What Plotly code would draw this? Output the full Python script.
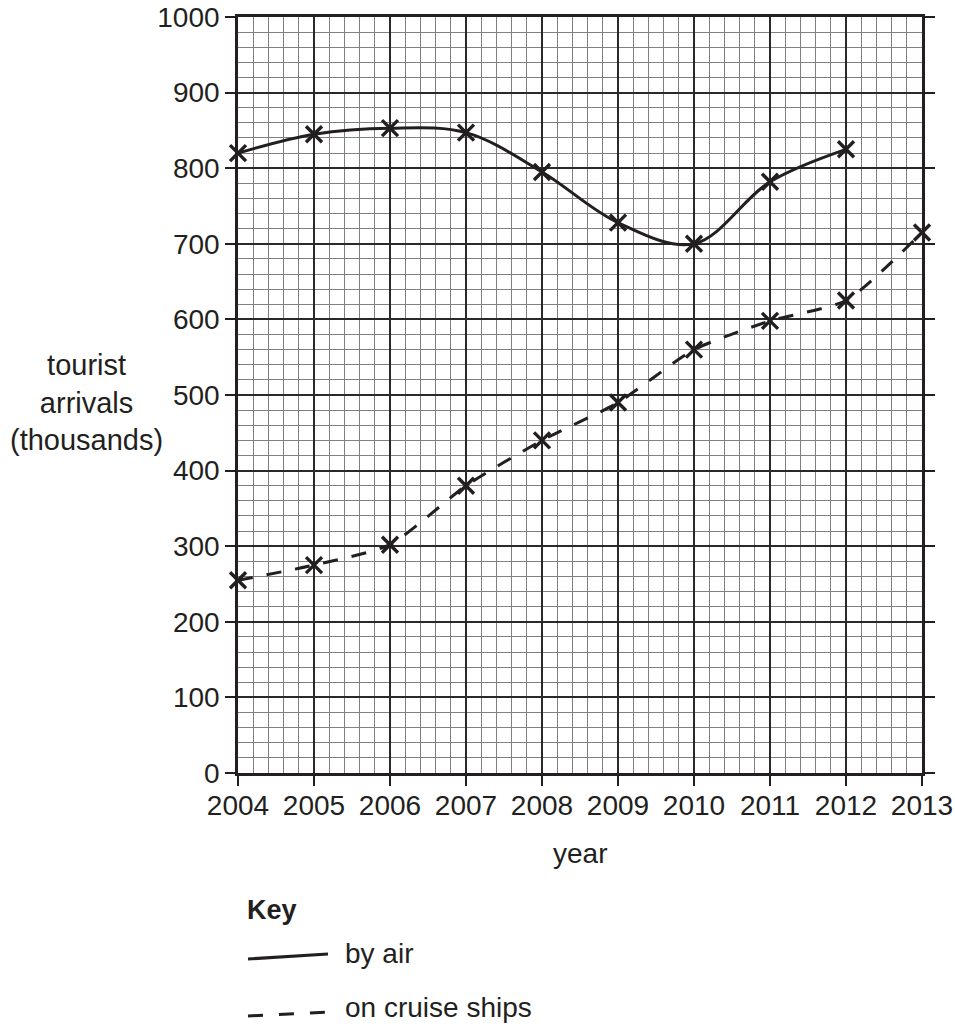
import plotly.graph_objects as go

years_air = [2004, 2005, 2006, 2007, 2008, 2009, 2010, 2011, 2012]
by_air = [820, 845, 853, 847, 795, 728, 700, 782, 825]

years_cruise = [2004, 2005, 2006, 2007, 2008, 2009, 2010, 2011, 2012, 2013]
on_cruise = [255, 275, 302, 380, 440, 490, 560, 598, 625, 715]

x_range = [2004, 2013]
y_range = [0, 1000]

FONT = "Liberation Sans, Arial, sans-serif"
INK = "#231f20"
FS = 28

fig = go.Figure()
fig.add_trace(go.Scatter(
    x=years_air, y=by_air, mode="lines+markers", name="by air",
    line=dict(color=INK, width=3, shape="spline", smoothing=1.0),
    marker=dict(symbol="x-thin", size=16, color=INK, line=dict(width=3.4, color=INK)),
    cliponaxis=False, showlegend=False))
fig.add_trace(go.Scatter(
    x=years_cruise, y=on_cruise, mode="lines+markers", name="on cruise ships",
    line=dict(color=INK, width=3, shape="spline", smoothing=0.6, dash="15px,14px"),
    marker=dict(symbol="x-thin", size=16, color=INK, line=dict(width=3.4, color=INK)),
    cliponaxis=False, showlegend=False))

fig.update_xaxes(
    range=x_range, tickmode="linear", tick0=2004, dtick=1,
    showgrid=True, gridcolor="#2a2a2a", gridwidth=1.8,
    minor=dict(tickmode="linear", tick0=2004, dtick=0.2, showgrid=True,
               gridcolor="#808080", gridwidth=1.4),
    showline=True, linecolor=INK, linewidth=2.6, mirror=True,
    ticks="outside", ticklen=10, tickwidth=2.2, tickcolor=INK,
    ticklabelstandoff=-4, ticklabeloverflow="allow",
    tickfont=dict(family=FONT, size=FS, color=INK), zeroline=False,
    automargin=False, fixedrange=True)
fig.update_yaxes(
    range=y_range, tickmode="linear", tick0=0, dtick=100,
    showgrid=True, gridcolor="#2a2a2a", gridwidth=1.8,
    minor=dict(tickmode="linear", tick0=0, dtick=20, showgrid=True,
               gridcolor="#808080", gridwidth=1.4),
    showline=True, linecolor=INK, linewidth=2.6, mirror="ticks",
    ticks="outside", ticklen=10, tickwidth=2.2, tickcolor=INK,
    ticklabeloverflow="allow",
    tickfont=dict(family=FONT, size=FS, color=INK), zeroline=False,
    automargin=False, fixedrange=True)

W, H = 955, 1028
l, t = 238, 17
pw, ph = 684, 756
r = W - l - pw
b = H - t - ph

fig.update_layout(
    width=W, height=H,
    margin=dict(l=l, r=r, t=t, b=b, autoexpand=False),
    paper_bgcolor="white", plot_bgcolor="white",
    font=dict(family=FONT, size=FS, color=INK),
)


def px(xs):
    return (xs - l) / pw


def py(ys):
    return (t + ph - ys) / ph


def note(text, xs, ys, xanchor="center", size=FS):
    fig.add_annotation(text=text, x=px(xs), y=py(ys), xref="paper", yref="paper",
                       xanchor=xanchor, yanchor="middle", showarrow=False, align="center",
                       font=dict(family=FONT, size=size, color=INK))


note("tourist<br>arrivals<br>(thousands)", 86, 402, size=29)
note("year", 580, 853)
note("<b>Key</b>", 245, 910, xanchor="left", size=FS - 1)
note("by air", 343, 953, xanchor="left")
note("on cruise ships", 343, 1007, xanchor="left")

fig.add_shape(type="line", x0=px(248), x1=px(328), y0=py(959), y1=py(954),
              xref="paper", yref="paper", line=dict(color=INK, width=3))
fig.add_shape(type="line", x0=px(248), x1=px(328), y0=py(1016), y1=py(1012),
              xref="paper", yref="paper", line=dict(color=INK, width=3, dash="15px,16px"))

page_fix = ("document.body.style.margin='0';"
            "document.body.style.overflow='hidden';"
            "document.documentElement.style.overflow='hidden';")

fig.write_html("out.html", post_script=page_fix, config={"displayModeBar": False})
